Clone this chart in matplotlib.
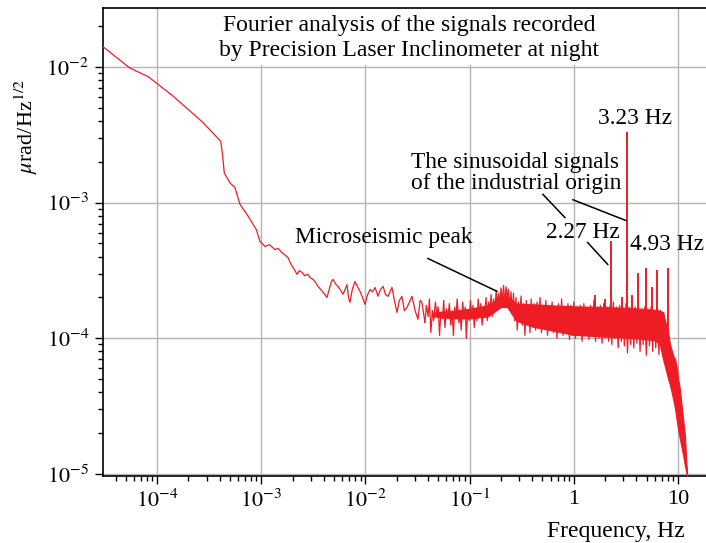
"""Fourier spectrum of the Precision Laser Inclinometer night record (recreated)."""
import matplotlib
matplotlib.use("Agg")
import matplotlib.pyplot as plt
import numpy as np
from matplotlib.patches import Rectangle
from matplotlib.ticker import FuncFormatter, LogLocator, NullFormatter

plt.rcParams["font.family"] = ["Liberation Serif", "DejaVu Serif"]
plt.rcParams["mathtext.fontset"] = "stix"

RED = "#ee1c25"

# low-frequency part of the spectrum (Hz, urad/Hz^1/2)
lf_freq = [3.03e-5, 5.5e-5, 8.2e-5, 1.39e-4, 2.76e-4, 4.1e-4, 4.27e-4, 4.42e-4,
           5.0e-4, 5.6e-4, 6.26e-4, 7.3e-4, 9.0e-4, 9.7e-4, 1.09e-3, 1.2e-3,
           1.36e-3, 1.45e-3, 1.58e-3, 1.7e-3, 1.81e-3, 1.9e-3, 2.02e-3, 2.21e-3,
           2.32e-3, 2.47e-3, 2.6e-3, 2.81e-3, 2.95e-3, 3.14e-3, 3.3e-3, 3.51e-3,
           3.9e-3, 4.28e-3, 4.5e-3, 4.7e-3, 4.89e-3, 5.2e-3, 5.46e-3, 5.8e-3,
           6.1e-3, 6.4e-3, 6.66e-3, 6.9e-3, 7.11e-3, 7.5e-3, 7.94e-3, 8.4e-3,
           8.87e-3, 9.4e-3, 9.9e-3, 1.05e-2, 1.11e-2, 1.17e-2, 1.24e-2, 1.32e-2,
           1.4e-2, 1.48e-2, 1.56e-2, 1.65e-2, 1.8e-2, 1.9e-2, 2.01e-2, 2.12e-2,
           2.24e-2, 2.37e-2, 2.51e-2, 2.65e-2, 2.8e-2, 3.0e-2, 3.2e-2, 3.35e-2,
           3.49e-2, 3.73e-2]
lf_amp = [1.41e-2, 9.8e-3, 8.5e-3, 6.2e-3, 3.9e-3, 2.82e-3, 2.19e-3, 1.66e-3,
          1.40e-3, 1.29e-3, 9.7e-4, 8.2e-4, 6.3e-4, 5.2e-4, 4.75e-4, 4.9e-4,
          4.5e-4, 4.6e-4, 4.28e-4, 4.1e-4, 3.94e-4, 3.6e-4, 3.33e-4, 2.96e-4,
          3.15e-4, 3.06e-4, 2.9e-4, 2.96e-4, 2.8e-4, 2.72e-4, 2.6e-4, 2.41e-4,
          2.2e-4, 2.0e-4, 2.3e-4, 2.6e-4, 2.72e-4, 2.5e-4, 2.41e-4, 2.25e-4,
          2.11e-4, 2.3e-4, 2.49e-4, 2.0e-4, 1.84e-4, 2.3e-4, 2.62e-4, 2.4e-4,
          2.22e-4, 2.0e-4, 1.78e-4, 2.1e-4, 2.29e-4, 2.2e-4, 2.37e-4, 2.04e-4,
          2.3e-4, 2.41e-4, 2.1e-4, 2.04e-4, 2.37e-4, 1.9e-4, 1.55e-4, 1.9e-4,
          2.04e-4, 1.6e-4, 1.69e-4, 1.85e-4, 2.04e-4, 1.6e-4, 1.38e-4, 1.9e-4,
          1.84e-4, 1.31e-4]

# noisy part: upper / lower excursions (Hz, x1e-4)
jag_freq = [0.0373, 0.0385, 0.040, 0.0412, 0.0425, 0.044, 0.0452, 0.047, 0.0485, 0.050,
            0.0515, 0.053, 0.055, 0.0565, 0.058, 0.060, 0.062, 0.064, 0.066, 0.068,
            0.070, 0.072, 0.074, 0.076, 0.079, 0.081, 0.083, 0.086, 0.088, 0.091,
            0.093, 0.096, 0.099, 0.102, 0.105, 0.108, 0.111, 0.114, 0.118, 0.121,
            0.125, 0.128, 0.132, 0.136, 0.14, 0.144, 0.148, 0.152, 0.156, 0.161,
            0.165, 0.170, 0.175, 0.180, 0.185, 0.19, 0.195, 0.20, 0.206, 0.212,
            0.218, 0.224, 0.23, 0.236, 0.243, 0.25, 0.257, 0.264, 0.271, 0.279,
            0.287, 0.295, 0.303, 0.312, 0.321, 0.33, 0.34, 0.35, 0.36, 0.37,
            0.38, 0.39, 0.40, 0.415, 0.43, 0.445, 0.46, 0.475, 0.49, 0.505,
            0.52, 0.54, 0.56, 0.58, 0.60, 0.62, 0.64, 0.665, 0.69, 0.715,
            0.74, 0.765, 0.79, 0.82, 0.85, 0.88, 0.91, 0.94, 0.97, 1.0,
            1.04, 1.08, 1.12, 1.16, 1.2, 1.25, 1.3, 1.35, 1.4, 1.45,
            1.5, 1.56, 1.62, 1.68, 1.74, 1.8, 1.87, 1.94, 2.01, 2.08,
            2.16, 2.24, 2.32, 2.4, 2.49, 2.58, 2.67, 2.76, 2.86, 2.96,
            3.06, 3.17, 3.28, 3.4, 3.52, 3.64, 3.77, 3.9, 4.04, 4.18,
            4.33, 4.48, 4.64, 4.8, 4.97, 5.15, 5.33, 5.52, 5.72, 5.92,
            6.13, 6.35, 6.57, 6.8, 7.05, 7.3]
jag_amp = [1.31, 1.75, 1.45, 1.95, 1.1, 1.6, 1.35, 1.85, 1.5, 1.7,
           1.05, 1.55, 1.4, 1.9, 1.2, 1.65, 1.45, 1.8, 1.25, 1.55,
           1.05, 1.7, 1.4, 1.95, 1.3, 1.6, 1.15, 1.85, 1.45, 1.7,
           1.0, 1.6, 1.35, 1.9, 1.4, 1.75, 1.2, 1.65, 1.35, 1.95,
           1.45, 1.8, 1.25, 1.7, 1.5, 2.0, 1.35, 1.85, 1.55, 2.1,
           1.45, 1.95, 1.6, 2.25, 1.7, 2.15, 1.75, 2.35, 1.85, 2.45,
           1.8, 2.4, 1.95, 2.3, 1.6, 2.2, 1.5, 2.15, 1.35, 2.0,
           1.15, 1.85, 1.4, 2.05, 1.25, 1.8, 1.05, 1.9, 1.3, 1.7,
           1.1, 1.95, 1.25, 1.8, 1.15, 1.85, 1.3, 2.0, 1.1, 1.75,
           1.2, 1.9, 1.05, 1.75, 1.25, 1.85, 1.1, 1.7, 1.0, 1.8,
           1.15, 1.95, 1.05, 1.7, 1.1, 1.8, 0.98, 1.75, 1.05, 1.85,
           1.0, 1.7, 1.1, 1.75, 0.95, 1.8, 1.05, 1.65, 0.98, 1.75,
           1.05, 1.9, 0.95, 1.7, 1.0, 1.75, 0.92, 1.8, 1.0, 1.7,
           0.95, 1.75, 0.9, 1.85, 1.0, 1.7, 0.85, 1.75, 0.95, 1.7,
           0.88, 1.8, 0.78, 1.7, 0.9, 1.75, 0.85, 1.7, 0.92, 1.75,
           0.8, 1.65, 0.9, 1.7, 0.75, 1.65, 0.88, 1.7, 0.8, 1.6,
           0.85, 1.7, 0.76, 1.6, 0.82, 1.55]

# dense core of the noise band and the roll-off above 7 Hz (Hz, x1e-4)
band_freq = [0.045, 0.07, 0.1, 0.15, 0.2, 0.23, 0.28, 0.4, 0.7, 1.0, 2.0, 4.0,
             6.0, 6.7, 7.2, 8.07, 8.4, 9.0, 9.4, 9.7, 10.07, 10.45, 10.86,
             11.25, 11.67, 12.0, 12.27]
band_hi = [1.55, 1.6, 1.65, 1.75, 2.05, 2.05, 1.8, 1.78, 1.74, 1.72, 1.7, 1.66,
           1.62, 1.6, 1.55, 1.1, 0.9, 0.75, 0.7, 0.626, 0.50, 0.422, 0.318,
           0.25, 0.191, 0.13, 0.10]
band_lo = [1.45, 1.4, 1.4, 1.45, 1.7, 1.7, 1.35, 1.22, 1.12, 1.06, 1.03, 1.0,
           0.97, 0.9, 0.70, 0.50, 0.45, 0.356, 0.30, 0.254, 0.21, 0.181,
           0.155, 0.136, 0.115, 0.103, 0.097]

# sinusoidal lines of industrial origin
spike_freq = [1.6, 2.0, 2.27, 2.9, 3.23, 3.6, 4.11, 4.93, 5.6, 6.26, 7.98]
spike_top = [2.1e-4, 1.95e-4, 5.2e-4, 2.0e-4, 3.3e-3, 2.1e-4, 3.05e-4, 3.3e-4,
             2.4e-4, 3.2e-4, 3.3e-4]
spike_base = [1.3e-4, 1.3e-4, 1.3e-4, 1.3e-4, 1.2e-4, 1.3e-4, 1.2e-4, 1.2e-4,
              1.2e-4, 1.2e-4, 1.0e-4]

fig = plt.figure(figsize=(7.06, 5.43), dpi=100)
ax = fig.add_axes([0.1459, 0.1234, 0.8541, 0.8619])
ax.set_xscale("log")
ax.set_yscale("log")
ax.set_xlim(3.03e-5, 18.6)
ax.set_ylim(9.66e-6, 2.72e-2)

ax.grid(True, which="major", color="#b4b4b4", lw=1.0)
# white panel behind the title, stopping just above the 1e-2 grid line
ax.add_patch(Rectangle((0.177, 0.878), 0.672, 0.13, transform=ax.transAxes,
                       facecolor="white", edgecolor="none", zorder=1.8))

ax.plot(lf_freq, lf_amp, color=RED, lw=0.9, zorder=3)
ax.fill_between(band_freq, np.array(band_lo) * 1e-4, np.array(band_hi) * 1e-4,
                color=RED, lw=0.8, zorder=3)
ax.plot(jag_freq, np.array(jag_amp) * 1e-4, color=RED, lw=0.9, zorder=3)
ax.vlines(spike_freq, spike_base, spike_top, color=RED, lw=1.4, zorder=3)

ax.text(0.5075, 0.935,
        "Fourier analysis of the signals recorded\nby Precision Laser Inclinometer at night",
        transform=ax.transAxes, ha="center", va="center", fontsize=17,
        linespacing=1.25, zorder=4)

txt = dict(fontsize=16.8, zorder=4)
ax.text(3.85, 4.2e-3, "3.23 Hz", ha="center", va="center", **txt)
ax.text(0.0277, 1.66e-3, "The sinusoidal signals\nof the industrial origin",
        ha="left", va="center", linespacing=1.0, **txt)
ax.text(1.22, 6.03e-4, "2.27 Hz", ha="center", va="center", **txt)
ax.text(7.8, 4.91e-4, "4.93 Hz", ha="center", va="center", **txt)
ax.text(0.0151, 5.53e-4, "Microseismic peak", ha="center", va="center", **txt)

lk = dict(color="black", lw=1.1, zorder=4)
ax.plot([0.0399, 0.183], [3.87e-4, 2.22e-4], **lk)
ax.plot([0.506, 0.823], [1.15e-3, 7.76e-4], **lk)
ax.plot([0.982, 3.17], [1.05e-3, 7.38e-4], **lk)
ax.plot([1.36, 2.12], [5.08e-4, 3.5e-4], **lk)


def dec_label(v, pos):
    k = int(round(np.log10(v)))
    if k == 0:
        return "1"
    if k == 1:
        return "10"
    return r"$10^{%d}$" % k


ax.xaxis.set_major_locator(LogLocator(base=10, numticks=20))
ax.xaxis.set_minor_locator(LogLocator(base=10, subs=np.arange(2, 10), numticks=20))
ax.xaxis.set_major_formatter(FuncFormatter(dec_label))
ax.xaxis.set_minor_formatter(NullFormatter())
ax.yaxis.set_major_formatter(FuncFormatter(dec_label))
ax.yaxis.set_minor_formatter(NullFormatter())
ax.tick_params(which="major", direction="out", length=6, width=1.0, labelsize=16, pad=4)
ax.tick_params(which="minor", direction="out", length=3.5, width=1.0)
ax.spines["right"].set_visible(False)
for side in ("left", "bottom", "top"):
    ax.spines[side].set_linewidth(1.2)

fig.text(685 / 706, 1 - 532 / 543, "Frequency, Hz", ha="right", va="center", fontsize=17)
fig.text(26 / 706, 1 - 127 / 543, r"$\mu$rad/Hz$^{1/2}$", rotation=90,
         ha="center", va="center", fontsize=16)

fig.savefig("out.png", dpi=100)
